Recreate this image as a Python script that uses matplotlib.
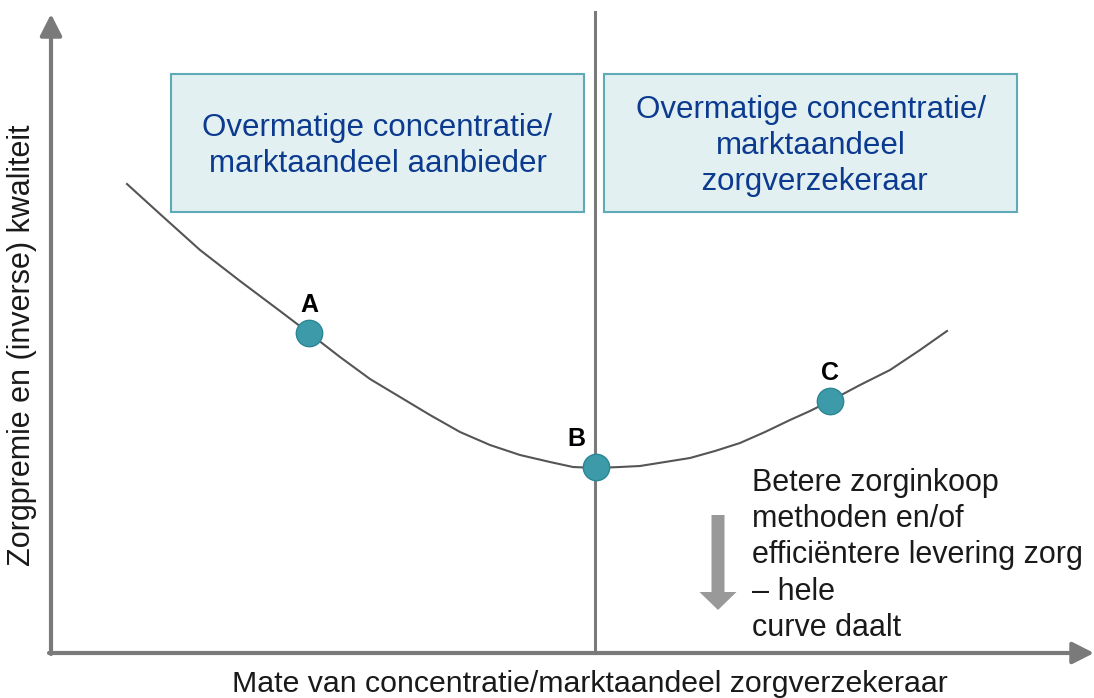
import matplotlib.pyplot as plt
from matplotlib.patches import Rectangle

plt.rcParams['font.family'] = ['Liberation Sans', 'DejaVu Sans']

# curve (pixel units, y downwards)
curve_x = [127, 160, 200, 240, 280, 309, 340, 370, 400, 430, 460, 490, 520, 550, 573,
           596, 620, 640, 665, 690, 715, 740, 765, 790, 810, 830, 860, 890, 920, 947]
curve_y = [184, 214, 250, 281, 311, 333, 357, 379, 397, 415, 432, 445, 455, 462, 467,
           468, 467, 466, 462, 458, 451, 443, 432, 420, 411, 401, 385, 370, 350, 331]

point_labels = ['A', 'B', 'C']
point_x = [309, 596, 830]
point_y = [333, 467, 401]

box_texts = ['Overmatige concentratie/\nmarktaandeel aanbieder',
             'Overmatige concentratie/\nmarktaandeel\n zorgverzekeraar']
side_text = 'Betere zorginkoop\nmethoden en/of\nefficiëntere levering zorg\n– hele\ncurve daalt'
xlabel = 'Mate van concentratie/marktaandeel zorgverzekeraar'
ylabel = 'Zorgpremie en (inverse) kwaliteit'

axis_grey = '#7a7a7a'
teal = '#3d9aa9'

fig = plt.figure(figsize=(10.94, 6.98), dpi=100)
ax = fig.add_axes([0, 0, 1, 1])
ax.set_xlim(0, 1094)
ax.set_ylim(698, 0)
ax.axis('off')

# axes with arrow heads
arrow_kw = dict(arrowstyle='-|>,head_length=0.65,head_width=0.33', color=axis_grey,
                lw=3, mutation_scale=20, shrinkA=0, shrinkB=0)
ax.annotate('', xy=(51, 14), xytext=(51, 654), arrowprops=arrow_kw)
ax.annotate('', xy=(1094, 653), xytext=(49, 653), arrowprops=arrow_kw)

# vertical divider
ax.plot([595, 595], [12, 653], color=axis_grey, lw=2.2)

# boxes
for (x0, x1), txt in zip([(171, 584), (604, 1017)], box_texts):
    ax.add_patch(Rectangle((x0, 74), x1 - x0, 138, facecolor='#e2f0f2',
                           edgecolor='#5eaab6', lw=1.5, zorder=2))
    ax.text((x0 + x1) / 2, 146, txt, ha='center', va='center', fontsize=22.5,
            color='#0b3a8f', linespacing=1.24, zorder=3)

# curve and points
ax.plot(curve_x, curve_y, color='#555555', lw=1.5, zorder=3)
ax.plot(point_x, point_y, 'o', ms=19, mfc=teal, mec='#2a8796', mew=1, zorder=4)
for lab, px, py in zip(point_labels, point_x, point_y):
    dx = -20 if lab == 'B' else 0
    ax.text(px + dx, py - 16, lab, ha='center', va='bottom', fontsize=18,
            fontweight='bold', color='black', zorder=5)

# down arrow
ax.arrow(718, 515, 0, 95, width=13, head_width=37, head_length=18,
         length_includes_head=True, color='#999999', lw=0)

ax.text(752, 468, side_text, ha='left', va='top', fontsize=22,
        color='#1a1a1a', linespacing=1.27)

ax.text(590, 692, xlabel, ha='center', va='baseline', fontsize=21.8, color='#1a1a1a')
ax.text(22, 345, ylabel, ha='center', va='center', rotation=90, fontsize=22,
        color='#1a1a1a')

fig.savefig('out.png', dpi=100)
